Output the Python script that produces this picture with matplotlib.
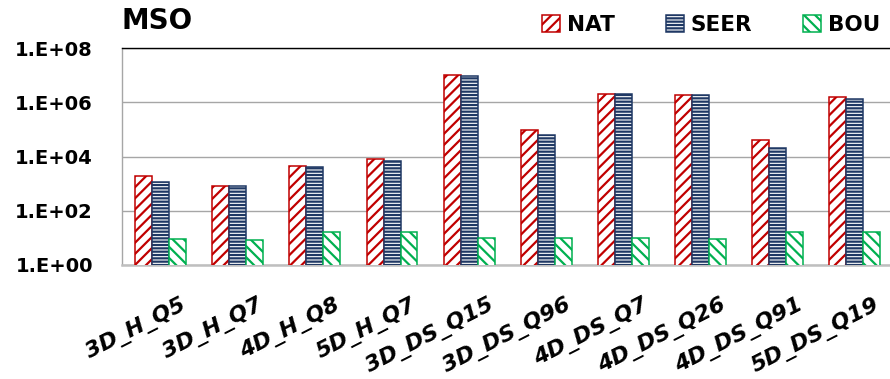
import matplotlib
matplotlib.use("Agg")
import matplotlib.pyplot as plt
import matplotlib.transforms as mtransforms
from matplotlib.ticker import FixedLocator, NullLocator
import numpy as np

# Query workloads
queries = ["3D_H_Q5", "3D_H_Q7", "4D_H_Q8", "5D_H_Q7", "3D_DS_Q15",
           "3D_DS_Q96", "4D_DS_Q7", "4D_DS_Q26", "4D_DS_Q91", "5D_DS_Q19"]

# MSO per technique
nat = [1900, 820, 4500, 7800, 9.8e6, 9.8e4, 2.0e6, 1.8e6, 3.9e4, 1.5e6]
seer = [1170, 810, 4200, 7100, 9.1e6, 6.3e4, 2.0e6, 1.8e6, 2.0e4, 1.35e6]
bou = [8.8, 8.1, 16, 16, 10, 10, 10, 8.8, 17, 16]

series_names = ["NAT", "SEER", "BOU"]
y_ticks = [1e0, 1e2, 1e4, 1e6, 1e8]
y_tick_labels = ["1.E+00", "1.E+02", "1.E+04", "1.E+06", "1.E+08"]
title = "MSO"

plt.rcParams["font.family"] = ["DejaVu Sans"]
plt.rcParams["hatch.linewidth"] = 1.6

fig = plt.figure(figsize=(8.9, 3.79), dpi=100)
ax = fig.add_axes([122 / 890, 114 / 379, 771.5 / 890, 217 / 379])

x = np.arange(len(queries))
w = 0.22
styles = [
    dict(color="#C00000", hatch="///"),
    dict(color="#1F3864", hatch="-----"),
    dict(color="#00B050", hatch="\\\\\\"),
]
handles = []
for i, (vals, name, st) in enumerate(zip([nat, seer, bou], series_names, styles)):
    b = ax.bar(x + (i - 1) * w, vals, width=w, facecolor="white",
               edgecolor=st["color"], hatch=st["hatch"], linewidth=1.1,
               label=name, zorder=3)
    handles.append(b)

ax.set_yscale("log")
ax.set_ylim(1, 1e8)
ax.set_xlim(-0.5, len(queries) - 0.5)

ax.yaxis.set_major_locator(FixedLocator(y_ticks))
ax.yaxis.set_minor_locator(NullLocator())
ax.set_yticklabels(y_tick_labels, fontsize=14, fontweight="bold")
ax.tick_params(axis="y", length=0, pad=21)

ax.set_xticks(x)
ax.set_xticklabels(queries, fontsize=16, fontweight="bold", fontstyle="italic",
                   rotation=27, rotation_mode="anchor", ha="right", va="baseline")
ax.tick_params(axis="x", length=0, pad=31.5)
shift = mtransforms.ScaledTranslation(26 / 100, 0, fig.dpi_scale_trans)
for lbl in ax.get_xticklabels():
    lbl.set_transform(lbl.get_transform() + shift)

ax.grid(axis="y", color="#A6A6A6", linewidth=1.0, zorder=0)
ax.set_axisbelow(True)
ax.spines["right"].set_visible(False)
ax.spines["top"].set_color("black")
ax.spines["top"].set_linewidth(1.0)
ax.spines["left"].set_color("#A6A6A6")
ax.spines["left"].set_linewidth(1.0)
ax.spines["bottom"].set_color("#BFBFBF")
ax.spines["bottom"].set_linewidth(1.8)

fig.text(122 / 890, 1 - 29 / 379, title, fontsize=20, fontweight="bold",
         va="baseline", ha="left")

fig.legend(handles=handles, labels=series_names, ncol=3, frameon=False,
           loc="center left", bbox_to_anchor=(542 / 890, 1 - 25 / 379),
           bbox_transform=fig.transFigure, borderpad=0, borderaxespad=0,
           prop=dict(size=15.5, weight="bold"), handlelength=0.85,
           handleheight=0.82, handletextpad=0.32, columnspacing=2.35)

fig.savefig("out.png", dpi=100)
